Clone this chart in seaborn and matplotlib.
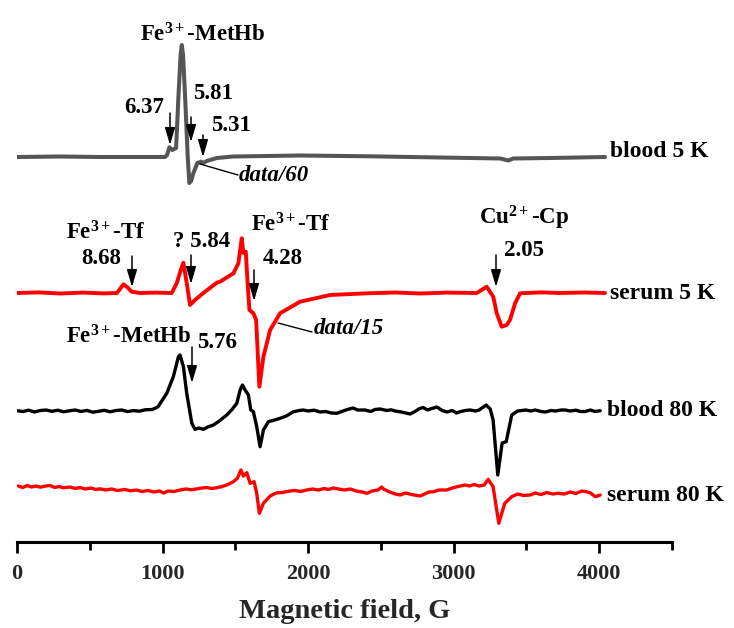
import matplotlib
matplotlib.use("Agg")
import matplotlib.pyplot as plt
import seaborn as sns
import pandas as pd

# ---------------- data (field in G, intensity in arbitrary units) ----------------
blood5_field = [0, 296, 570, 845, 1017, 1031, 1047, 1067, 1093, 1109,
                1124, 1132, 1141, 1155, 1173, 1184, 1196, 1212, 1239, 1265,
                1280, 1304, 1373, 1485, 1945, 2426, 2907, 3320, 3375, 3409,
                3661, 4040]
blood5_int = [0, 0.5, 0, 0, 0, 2, 9.7, 7, 9, 60,
              102, 112, 102, 60, 0, -26, -24, -16, -6, -4.7,
              -6, -4, -1, 0.5, 1.5, 0.7, -0.5, -1.5, -3.5, -1.5,
              -1, 0]

serum5_field = [0, 150, 296, 450, 600, 686, 708, 731, 756, 788,
                845, 950, 1063, 1098, 1125, 1143, 1166, 1189, 1223, 1280,
                1373, 1395, 1487, 1521, 1544, 1555, 1572, 1583, 1597, 1624,
                1643, 1665, 1693, 1739, 1807, 1945, 2151, 2405, 2600, 2770,
                2950, 3159, 3227, 3272, 3296, 3330, 3364, 3387, 3422, 3456,
                3600, 3731, 3900, 4040]
serum5_int = [0, 0.6, -0.5, 0.4, -0.4, 0, 4, 8.7, 6, 1.3,
              0, 0.4, 0, 10, 23, 30.3, 10, -12, -7, 0,
              10.3, 11.3, 19.7, 29.7, 54.7, 40, 41.3, 13, -17, -20.3,
              -27, -93.7, -63.7, -37, -20.3, -8.7, -2, -0.3, 0.5, -0.5,
              0.4, 0, 6.3, -3.7, -20.3, -33.7, -32, -27, -10.3, -0.3,
              0.6, 0, 0.5, 0]

blood80_field = [0, 40, 80, 120, 160, 200, 240, 280, 320, 360,
                 400, 440, 480, 520, 560, 600, 640, 680, 720, 760,
                 800, 840, 880, 930, 969, 1029, 1074, 1109, 1120, 1143,
                 1166, 1201, 1223, 1250, 1280, 1310, 1349, 1390, 1441, 1480,
                 1510, 1533, 1549, 1567, 1590, 1606, 1624, 1647, 1670, 1693,
                 1727, 1770, 1808, 1850, 1899, 1940, 1966, 2000, 2040, 2083,
                 2120, 2160, 2197, 2240, 2270, 2309, 2340, 2392, 2430, 2460,
                 2495, 2540, 2570, 2598, 2640, 2670, 2701, 2740, 2760, 2790,
                 2820, 2850, 2885, 2920, 2955, 2990, 3020, 3045, 3080, 3113,
                 3150, 3175, 3223, 3251, 3271, 3303, 3333, 3361, 3399, 3440,
                 3496, 3530, 3560, 3600, 3629, 3670, 3700, 3740, 3766, 3800,
                 3840, 3870, 3904, 3940, 3970, 4007]
blood80_int = [0.3, -0.5, 0.8, -1, 0.5, 1, -0.3, 0.8, -0.8, 0.2,
               1, -0.5, 0.6, -1.2, -0.3, 0.7, -0.8, 0.5, 1, -0.6,
               0.4, -0.2, 1.2, 1.5, 4.3, 17.7, 34.3, 54.3, 56, 44.3,
               17.7, -12.3, -18.3, -17, -18.3, -16, -14, -10, -4, 2,
               7.7, 21, 26, 21, 16, 1, -0.7, -15.7, -35.7, -19,
               -10.7, -9, -7.3, -5, -0.7, 0.5, 1, 0, 0.8, -1,
               -0.5, -2, -2.3, 0, 1.5, 3, 1, 1, -0.5, 1.5,
               2, 0.5, 1.2, 0, -1, -2, -3, 0, 2, 3.5,
               1, 2.5, 4, 0.5, -1, 0.5, -2, -0.7, 0.5, 1,
               0, 1, 6, 2, -9, -64, -32, -30.7, -4, 0,
               1, 0, 1, -0.5, -1, 0.5, 0, 1, 1, 0,
               0.8, -0.5, -0.5, 1, -0.5, 0.3]

serum80_field = [9, 40, 70, 100, 130, 160, 190, 227, 260, 290,
                 320, 364, 400, 430, 470, 510, 540, 570, 610, 650,
                 690, 742, 780, 820, 860, 900, 940, 980, 1006, 1040,
                 1080, 1120, 1160, 1200, 1258, 1300, 1340, 1373, 1410, 1441,
                 1487, 1514, 1538, 1555, 1579, 1601, 1629, 1647, 1665, 1693,
                 1739, 1780, 1820, 1876, 1910, 1950, 1990, 2030, 2070, 2110,
                 2140, 2174, 2210, 2250, 2290, 2330, 2370, 2403, 2440, 2480,
                 2505, 2518, 2560, 2600, 2632, 2670, 2710, 2770, 2800, 2830,
                 2861, 2900, 2952, 2990, 3030, 3079, 3110, 3140, 3175, 3210,
                 3237, 3271, 3310, 3351, 3399, 3440, 3480, 3526, 3560, 3600,
                 3640, 3680, 3718, 3760, 3800, 3840, 3880, 3911, 3940, 3973,
                 4007]
serum80_int = [2, 0.5, 2.5, 1, 2, 0.8, 1.8, 2.5, 0.5, 1.5,
               0.2, 1, -0.5, 0.5, -1, 0, -1.5, -0.8, -2, -1,
               -2.5, -1.5, -2.8, -2, -3.5, -2.5, -4, -3, -5, -3,
               -3.5, -2, -1, -1.8, -0.3, 0.5, -0.5, 0.3, 1.5, 3,
               6.3, 9.7, 18, 12, 15.3, 4.7, 6.3, -5.3, -25.3, -15.3,
               -8, -5, -4.5, -3, -2.5, -3.5, -2, -1, -2, -0.5,
               -1.5, 0, -1, -2, -1, -3, -4, -5.3, -3, -2,
               1, -1, -4, -6, -7, -5, -6.5, -8, -6, -4,
               -3.7, -2, -2, 0, 1.5, 3, 2, 3.5, 2, 3,
               8.7, 1.3, -35.3, -15.3, -8.7, -6, -7.5, -7, -5, -6.5,
               -4.5, -6, -5.3, -6, -4, -5.5, -3, -3.7, -5, -8.7,
               -7]

series_names = ["blood 5 K", "serum 5 K", "blood 80 K", "serum 80 K"]
x_ticks = [0, 1000, 2000, 3000, 4000]
x_label = "Magnetic field, G"

# ---------------- layout / style ----------------
W, H = 734, 628
offsets = {"blood 5 K": 471, "serum 5 K": 335, "blood 80 K": 217, "serum 80 K": 140}
colors = {"blood 5 K": "#555555", "serum 5 K": "#ff0000",
          "blood 80 K": "#000000", "serum 80 K": "#ff0000"}
widths = {"blood 5 K": 2.9, "serum 5 K": 2.8, "blood 80 K": 2.4, "serum 80 K": 2.4}

sns.set_theme(style="white")
plt.rcParams["font.family"] = ["Liberation Serif", "DejaVu Serif"]
plt.rcParams["font.weight"] = "bold"
plt.rcParams["mathtext.fontset"] = "custom"
plt.rcParams["mathtext.rm"] = "Liberation Serif:bold"
plt.rcParams["mathtext.bf"] = "Liberation Serif:bold"
plt.rcParams["mathtext.it"] = "Liberation Serif:italic:bold"

frames = []
for name, fx, fy in zip(series_names,
                        [blood5_field, serum5_field, blood80_field, serum80_field],
                        [blood5_int, serum5_int, blood80_int, serum80_int]):
    assert len(fx) == len(fy), name
    frames.append(pd.DataFrame({"field": fx, "intensity": fy, "sample": name}))
df = pd.concat(frames, ignore_index=True)
df["y"] = df["intensity"] + df["sample"].map(offsets)

fig = plt.figure(figsize=(W / 100, H / 100), dpi=100)
ax = fig.add_axes([17 / W, 86 / H, 655 / W, 542 / H])

for name in series_names:
    sub = df[df["sample"] == name]
    sns.lineplot(data=sub, x="field", y="y", color=colors[name], lw=widths[name],
                 sort=False, estimator=None, ax=ax, legend=False,
                 solid_joinstyle="round", solid_capstyle="round")

ax.set_xlim(0, 4500)
ax.set_ylim(86, 628)
for s in ["left", "right", "top"]:
    ax.spines[s].set_visible(False)
ax.spines["bottom"].set_linewidth(2.2)
ax.spines["bottom"].set_color("black")
ax.set_yticks([])
ax.set_ylabel("")
ax.set_xticks(x_ticks)
ax.set_xticklabels([str(t) for t in x_ticks])
ax.set_xticks([500, 1500, 2500, 3500, 4500], minor=True)
ax.tick_params(axis="x", which="major", length=8, width=2, direction="out",
               color="black", labelsize=16, pad=8, bottom=True)
ax.tick_params(axis="x", which="minor", length=5.5, width=2, direction="out",
               color="black", bottom=True)
for lab in ax.get_xticklabels():
    lab.set_fontweight("bold")
ax.set_xlabel(x_label, fontsize=20.5, fontweight="bold")
ax.xaxis.set_label_coords(0.5, -0.105)


def txt(xp, yp, s, size=16.5, ha="center", style="normal"):
    fig.text(xp / W, 1 - yp / H, s, ha=ha, va="baseline", fontsize=size,
             fontweight="bold", fontstyle=style, color="black")


def arrow(xp, y1, y2):
    ax.annotate("", xy=(xp, H - y2), xytext=(xp, H - y1), xycoords="figure pixels",
                textcoords="figure pixels",
                arrowprops=dict(arrowstyle="-|>,head_length=0.75,head_width=0.22",
                                color="black", lw=1.1, shrinkA=0, shrinkB=0,
                                mutation_scale=14))


def leader(x1, y1, x2, y2):
    ax.annotate("", xy=(x2, H - y2), xytext=(x1, H - y1), xycoords="figure pixels",
                textcoords="figure pixels",
                arrowprops=dict(arrowstyle="-", color="black", lw=1.0,
                                shrinkA=0, shrinkB=0))


# blood 5 K annotations
txt(203, 41, r"Fe$^{\mathbf{3+}}$-MetHb")
txt(144, 113, "6.37")
txt(213, 99, "5.81")
txt(231, 131, "5.31")
arrow(170, 113, 145)
arrow(191, 117, 142)
arrow(203, 135, 157)
txt(239, 181, "data/60", ha="left", style="italic")
leader(200, 164, 238, 175)

# serum 5 K annotations
txt(106, 239, r"Fe$^{\mathbf{3+}}$-Tf")
txt(101, 264, "8.68")
arrow(132, 256, 287)
txt(202, 247, "? 5.84")
arrow(191, 255, 284)
txt(291, 231, r"Fe$^{\mathbf{3+}}$-Tf")
txt(283, 264, "4.28")
arrow(254, 270, 301)
txt(314, 334, "data/15", ha="left", style="italic")
leader(278, 323, 312, 332)
txt(524, 225, r"Cu$^{\mathbf{2+}}$-Cp")
txt(524, 256, "2.05")
arrow(496, 255, 287)

# blood 80 K annotations
txt(129, 343, r"Fe$^{\mathbf{3+}}$-MetHb")
txt(217, 348, "5.76")
arrow(192, 347, 383)

# series labels
label_pos = {"blood 5 K": (610, 157), "serum 5 K": (610, 299),
             "blood 80 K": (607, 416), "serum 80 K": (607, 501)}
for name in series_names:
    xp, yp = label_pos[name]
    txt(xp, yp, name, 17, ha="left")

fig.savefig("out.png", dpi=100)
